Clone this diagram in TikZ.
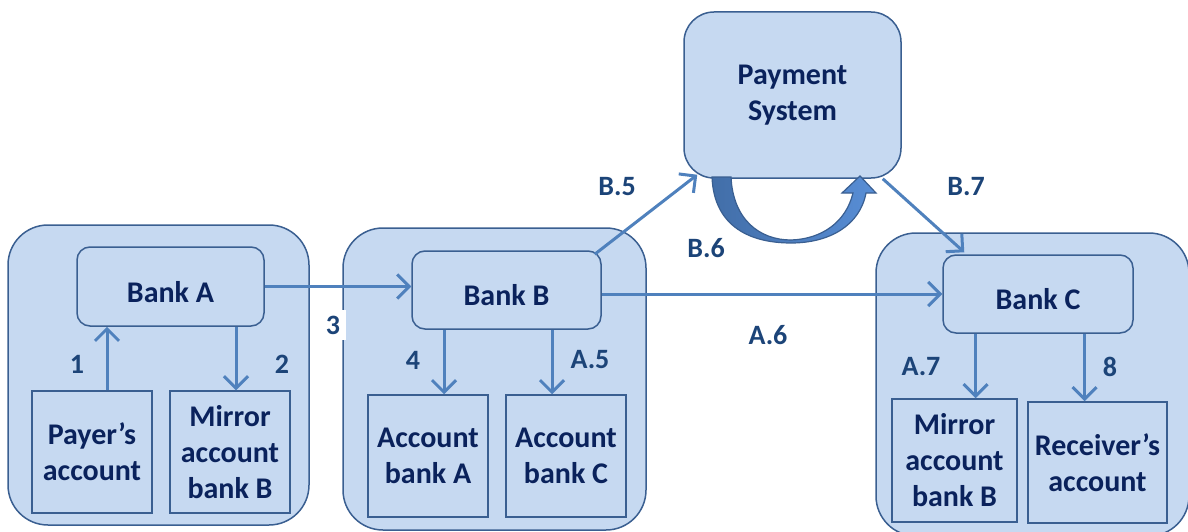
\documentclass[tikz,border=0pt]{standalone}
\usepackage{fontspec}
\setmainfont{Carlito}
\usepackage{tikz}
\usetikzlibrary{arrows.meta}

\definecolor{boxC}{RGB}{198,217,241}
\definecolor{lineC}{RGB}{58,95,145}
\definecolor{arrowC}{RGB}{79,129,189}
\definecolor{textC}{RGB}{10,34,92}
\definecolor{tagC}{RGB}{28,68,120}
\definecolor{loopDark}{RGB}{66,110,168}
\definecolor{loopLight}{RGB}{88,142,214}

\newcommand\bankfont{\fontsize{30}{36}\selectfont\bfseries}
\newcommand\tagfont{\fontsize{28}{32}\selectfont\bfseries}

\tikzset{
  group/.style={draw=lineC, fill=boxC, line width=1.5pt, rounded corners=40pt, inner sep=0pt},
  bank/.style={draw=lineC, fill=boxC, line width=1.5pt, rounded corners=13pt, inner sep=0pt,
    font=\bankfont, text=textC, align=center, text height=31pt, text depth=0pt},
  acct/.style={draw=lineC, fill=boxC, line width=1.5pt, inner sep=0pt,
    font=\bankfont, text=textC, align=center},
  tag/.style={font=\tagfont, text=tagC, inner sep=2pt},
  flow/.style={draw=arrowC, line width=3pt,
    -{Straight Barb[length=12pt,width=24pt,line width=3pt]}},
  loopc/.style={draw=lineC, line width=1.2pt, left color=loopDark, right color=loopLight}
}

\begin{document}
\begin{tikzpicture}[x=1pt,y=-1pt]
\useasboundingbox (0,0) rectangle (1188,532);

%groups
\node[group, minimum width=301pt, minimum height=300pt] (grpA) at (158.5,375) {};
\node[group, minimum width=303pt, minimum height=302pt] (grpB) at (494.5,379) {};
\node[group, minimum width=313pt, minimum height=303pt] (grpC) at (1032.5,384.5) {};

%left bank
\node[bank, minimum width=187pt, minimum height=79pt] (bankA) at (170.5,286.5) {Bank A};
\node[acct, minimum width=120pt, minimum height=122pt] (payer) at (92,452) {Payer’s\\account};
\node[acct, minimum width=120pt, minimum height=122pt] (mirrorA) at (230,452) {Mirror\\account\\bank B};
\draw[flow] ([xshift=15pt]payer.north) -- ([xshift=15pt]payer.north |- bankA.south);
\draw[flow] ([xshift=6pt]mirrorA.north |- bankA.south) -- ([xshift=6pt]mirrorA.north);
\node[tag] (l1) at (77,364) {1};
\node[tag] (l2) at (282,364) {2};

%middle bank
\node[bank, minimum width=189pt, minimum height=78pt] (bankB) at (506.5,290) {Bank B};
\node[acct, minimum width=120pt, minimum height=122pt] (acctA) at (428,456) {Account\\bank A};
\node[acct, minimum width=120pt, minimum height=122pt] (acctC) at (566,456) {Account\\bank C};
\draw[flow] ([xshift=16pt]acctA.north |- bankB.south) -- ([xshift=16pt]acctA.north);
\draw[flow] ([xshift=-14pt]acctC.north |- bankB.south) -- ([xshift=-14pt]acctC.north);
\node[tag] (l4) at (413,360) {4};
\node[tag] (lA5) at (590,360) {A.5};

%right bank
\node[bank, minimum width=190pt, minimum height=78pt] (bankC) at (1038,294) {Bank C};
\node[acct, minimum width=125pt, minimum height=123pt] (mirrorC) at (954.5,460.5) {Mirror\\account\\bank B};
\node[acct, minimum width=139pt, minimum height=121pt] (recv) at (1097.5,462.5) {Receiver’s\\account};
\draw[flow] ([xshift=21pt]mirrorC.north |- bankC.south) -- ([xshift=21pt]mirrorC.north);
\draw[flow] ([xshift=-13pt]recv.north |- bankC.south) -- ([xshift=-13pt]recv.north);
\node[tag] (lA7) at (921,367) {A.7};
\node[tag] (l8) at (1110,367) {8};

%payment system
\node[bank, text height=, text depth=, minimum width=217pt, minimum height=166pt, rounded corners=30pt] (pay) at (792.5,95) {Payment\\System};
\draw[loopc] (712,177) .. controls (714,228) and (752,243) .. (791,243)
  .. controls (830,243) and (860,225) .. (866,193) -- (876,193) -- (860,176)
  -- (842,193) -- (853,193) .. controls (846,222) and (822,239) .. (791,240)
  .. controls (760,240) and (733,220) .. (731,177) -- cycle;

%between banks
\draw[flow] (bankA.east) -- (bankA.east -| bankB.west);
\draw[flow] (bankB.east |- bankC.west) -- (bankC.west);
\draw[flow] ([shift={(-7,4)}]bankB.north east) -- ([shift={(14,-4)}]pay.south west);
\draw[flow] ([shift={(-19,0)}]pay.south east) -- ([shift={(22,-2)}]bankC.north west);
\node[tag, fill=white, inner sep=6pt] (l3) at (333,325) {3};
\node[tag] (lB5) at (617,187) {B.5};
\node[tag] (lB6) at (706,248) {B.6};
\node[tag] (lA6) at (768,335) {A.6};
\node[tag] (lB7) at (966,187) {B.7};
\end{tikzpicture}
\end{document}
